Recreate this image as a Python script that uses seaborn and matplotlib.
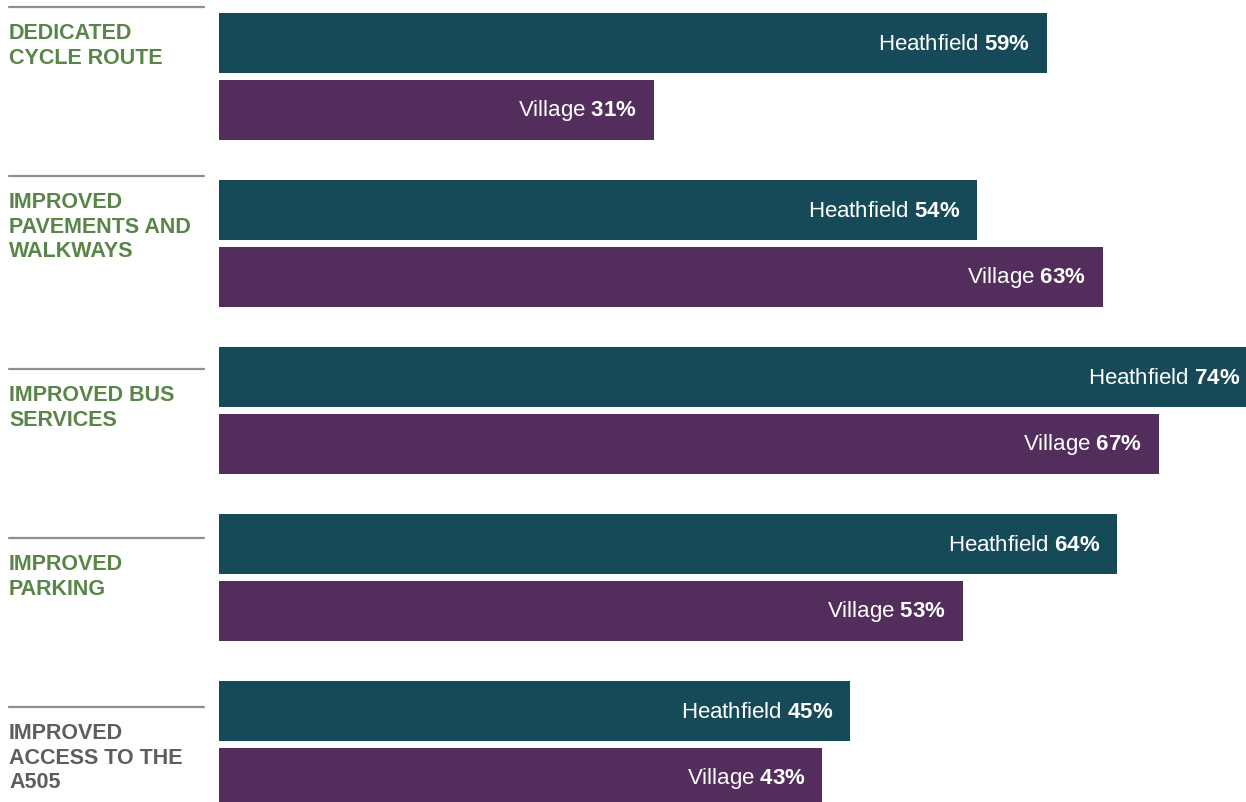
import pandas as pd
import matplotlib
matplotlib.use("Agg")
import matplotlib.pyplot as plt
from matplotlib.lines import Line2D
import seaborn as sns

# data
categories = ["DEDICATED\nCYCLE ROUTE", "IMPROVED\nPAVEMENTS AND\nWALKWAYS",
              "IMPROVED BUS\nSERVICES", "IMPROVED\nPARKING",
              "IMPROVED\nACCESS TO THE\nA505"]
heathfield = [59, 54, 74, 64, 45]
village = [31, 63, 67, 53, 43]
areas = ["Heathfield", "Village"]

# layout: y (px from top) of the grey rule above each category label
rule_px = [8, 177, 370, 539, 708]
label_colors = ["#5a8549", "#5a8549", "#5a8549", "#5a8549", "#5e5e5e"]
bar_colors = ["#174a59", "#532d5b"]

df = pd.DataFrame({
    "category": categories * 2,
    "area": ["Heathfield"] * len(categories) + ["Village"] * len(categories),
    "value": heathfield + village,
})

sns.set_style("white")
plt.rcParams["font.family"] = ["Liberation Sans", "DejaVu Sans"]
plt.rcParams["mathtext.fontset"] = "custom"
plt.rcParams["mathtext.rm"] = "Liberation Sans"
plt.rcParams["mathtext.bf"] = "Liberation Sans:bold"

W, H = 1246, 803
fig = plt.figure(figsize=(W / 100, H / 100), dpi=100)
ax = fig.add_axes([219 / W, 0, 1 - 219 / W, 1])

sns.barplot(data=df, y="category", x="value", hue="area", hue_order=areas,
            palette=bar_colors, orient="h", width=0.8, gap=0.1,
            saturation=1, linewidth=0, legend=False, ax=ax)

xmax = 73.2
ax.set_xlim(0, xmax)
ax.set_ylim(4.344, -0.464)
ax.axis("off")

# value labels inside the bars
for area, cont in zip(areas, ax.containers):
    for bar in cont:
        w = bar.get_width()
        yc = bar.get_y() + bar.get_height() / 2
        ax.text(w - 1.2, yc, f"{area} $\\mathbf{{{int(w)}\\%}}$",
                ha="right", va="center", color="white", fontsize=16)

# category labels with rules above
for lab, ry, col in zip(categories, rule_px, label_colors):
    fig.add_artist(Line2D([9 / W, 204 / W], [1 - ry / H, 1 - ry / H],
                          color="#8f8f8f", lw=1.6))
    fig.text(9 / W, 1 - (ry + 15) / H, lab, ha="left", va="top",
             color=col, fontsize=15.5, fontweight="bold", linespacing=1.22)

fig.savefig("out.png", dpi=100)
